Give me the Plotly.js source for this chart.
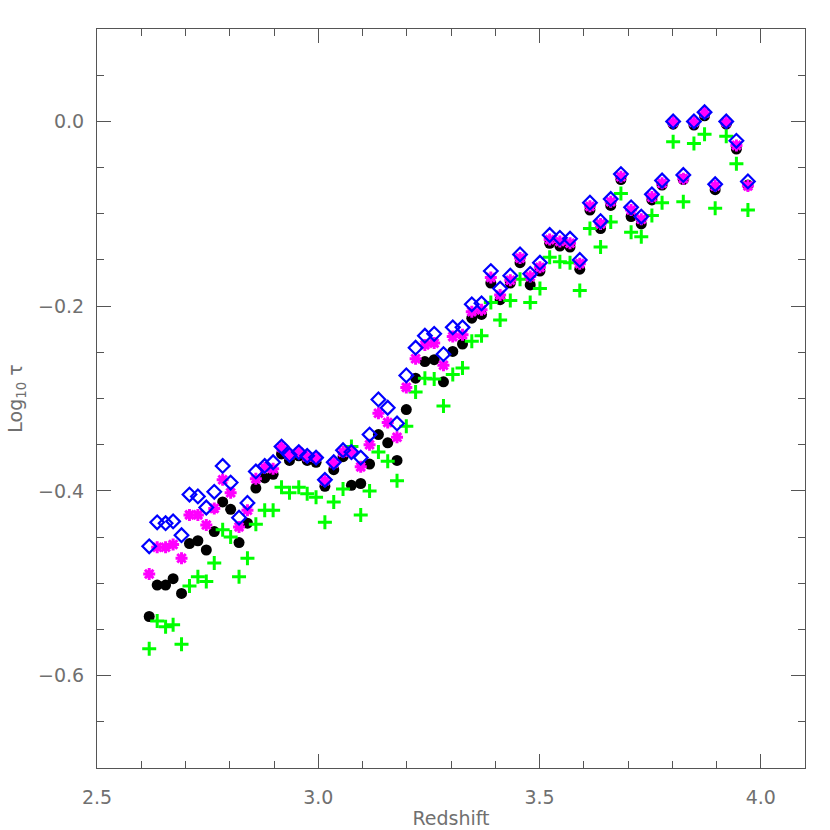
<!DOCTYPE html>
<html>
<head>
<meta charset="utf-8">
<script src="https://cdn.plot.ly/plotly-3.0.1.min.js"></script>
<style>
  html, body { margin: 0; padding: 0; background: #fff; }
  #chart { width: 830px; height: 830px; }
</style>
</head>
<body>
<div id="chart"></div>
<script>
// redshift bins
const redshift = [2.618, 2.636, 2.655, 2.672, 2.691, 2.709, 2.728, 2.747, 2.765, 2.784,
  2.802, 2.821, 2.840, 2.859, 2.879, 2.898, 2.917, 2.935, 2.956, 2.975,
  2.995, 3.015, 3.035, 3.056, 3.075, 3.096, 3.116, 3.136, 3.157, 3.178,
  3.199, 3.220, 3.241, 3.262, 3.283, 3.304, 3.326, 3.347, 3.369, 3.390,
  3.411, 3.434, 3.456, 3.479, 3.501, 3.523, 3.546, 3.569, 3.591, 3.614,
  3.638, 3.661, 3.684, 3.707, 3.730, 3.754, 3.777, 3.802, 3.825, 3.849,
  3.873, 3.897, 3.922, 3.945, 3.971];

// log10 tau, four estimates
const tauBlack = [-0.536, -0.502, -0.502, -0.495, -0.511, -0.457, -0.454, -0.464, -0.444, -0.412,
  -0.420, -0.456, -0.435, -0.397, -0.386, -0.382, -0.360, -0.367, -0.362, -0.367,
  -0.369, -0.395, -0.377, -0.363, -0.394, -0.392, -0.371, -0.339, -0.348, -0.367,
  -0.312, -0.278, -0.260, -0.258, -0.282, -0.249, -0.241, -0.213, -0.209, -0.175,
  -0.193, -0.175, -0.153, -0.177, -0.162, -0.132, -0.135, -0.136, -0.160, -0.096,
  -0.116, -0.091, -0.063, -0.103, -0.111, -0.085, -0.069, -0.003, -0.063, -0.004,
  0.006, -0.074, -0.003, -0.030, -0.069];

const tauGreen = [-0.571, -0.541, -0.547, -0.545, -0.566, -0.503, -0.493, -0.498, -0.478, -0.442,
  -0.450, -0.493, -0.473, -0.436, -0.421, -0.421, -0.396, -0.402, -0.396, -0.403,
  -0.407, -0.434, -0.412, -0.398, -0.352, -0.426, -0.400, -0.358, -0.368, -0.389,
  -0.330, -0.293, -0.278, -0.279, -0.308, -0.274, -0.267, -0.238, -0.232, -0.196,
  -0.215, -0.194, -0.171, -0.196, -0.181, -0.147, -0.152, -0.153, -0.183, -0.116,
  -0.136, -0.109, -0.078, -0.120, -0.125, -0.102, -0.088, -0.022, -0.087, -0.024,
  -0.014, -0.094, -0.016, -0.046, -0.096];

const tauMagenta = [-0.490, -0.461, -0.461, -0.458, -0.473, -0.426, -0.426, -0.437, -0.419, -0.388,
  -0.402, -0.439, -0.421, -0.387, -0.375, -0.376, -0.353, -0.361, -0.358, -0.363,
  -0.364, -0.389, -0.370, -0.358, -0.358, -0.374, -0.350, -0.316, -0.326, -0.342,
  -0.288, -0.257, -0.242, -0.240, -0.264, -0.233, -0.231, -0.206, -0.204, -0.169,
  -0.188, -0.172, -0.148, -0.168, -0.158, -0.128, -0.130, -0.132, -0.154, -0.092,
  -0.111, -0.087, -0.060, -0.096, -0.106, -0.082, -0.067, -0.001, -0.062, -0.001,
  0.009, -0.070, -0.001, -0.026, -0.070];

const tauBlue = [-0.460, -0.434, -0.435, -0.433, -0.448, -0.404, -0.406, -0.418, -0.401, -0.373,
  -0.391, -0.429, -0.413, -0.379, -0.373, -0.369, -0.352, -0.361, -0.358, -0.362,
  -0.364, -0.388, -0.369, -0.356, -0.358, -0.364, -0.339, -0.301, -0.310, -0.327,
  -0.275, -0.245, -0.232, -0.230, -0.252, -0.223, -0.223, -0.198, -0.197, -0.162,
  -0.181, -0.167, -0.144, -0.165, -0.153, -0.123, -0.126, -0.127, -0.150, -0.088,
  -0.108, -0.084, -0.057, -0.093, -0.103, -0.079, -0.064, 0.000, -0.058, 0.000,
  0.010, -0.068, 0.000, -0.021, -0.065];

const xTicks = [2.5, 3.0, 3.5, 4.0];
const xTickText = ["2.5", "3.0", "3.5", "4.0"];
const yTicks = [-0.6, -0.4, -0.2, 0.0];
const yTickText = ["\u22120.6", "\u22120.4", "\u22120.2", "0.0"];

const greyTxt = "#707070";
const axisCol = "#555";

const traces = [
  {
    x: redshift, y: tauBlack, mode: "markers", type: "scatter",
    marker: { symbol: "circle", size: 11, color: "#000" }
  },
  {
    x: redshift, y: tauGreen, mode: "markers", type: "scatter",
    marker: { symbol: "cross-thin", size: 10, color: "#00ff00", line: { color: "#00ff00", width: 3 } }
  },
  {
    x: redshift, y: tauMagenta, mode: "markers", type: "scatter",
    marker: { symbol: "asterisk", size: 10, color: "#ff00ff", line: { color: "#ff00ff", width: 3 } }
  },
  {
    x: redshift, y: tauBlue, mode: "markers", type: "scatter",
    marker: { symbol: "diamond-open", size: 10.5, color: "#0000ff", line: { color: "#0000ff", width: 2.2 } }
  }
];

function axisBase() {
  return {
    showgrid: false,
    zeroline: false,
    showline: true,
    linecolor: axisCol,
    linewidth: 1,
    mirror: "ticks",
    ticks: "inside",
    ticklen: 14,
    tickcolor: axisCol,
    tickwidth: 1,
    tickfont: { family: "DejaVu Sans", size: 19, color: greyTxt }
  };
}

const xaxis = Object.assign(axisBase(), {
  range: [2.5, 4.1],
  tickmode: "array",
  tickvals: xTicks,
  ticktext: xTickText,
  minor: { ticks: "inside", ticklen: 7, tickcolor: axisCol, tickwidth: 1, dtick: 0.1, tick0: 2.5 },
  ticklabelstandoff: 12,
  title: { text: "Redshift", font: { family: "DejaVu Sans", size: 19, color: greyTxt }, standoff: 4 }
});

const yaxis = Object.assign(axisBase(), {
  range: [-0.7, 0.1],
  tickmode: "array",
  tickvals: yTicks,
  ticktext: yTickText,
  minor: { ticks: "inside", ticklen: 7, tickcolor: axisCol, tickwidth: 1, dtick: 0.05, tick0: 0 },
  ticklabelstandoff: 8,
  title: { text: "Log<sub>10</sub> \u03c4", font: { family: "DejaVu Sans", size: 19, color: greyTxt }, standoff: 10 }
});

Plotly.newPlot("chart", traces, {
  width: 830,
  height: 830,
  margin: { l: 97, r: 25, t: 29, b: 62 },
  paper_bgcolor: "#fff",
  plot_bgcolor: "#fff",
  showlegend: false,
  xaxis: xaxis,
  yaxis: yaxis
}, { displayModeBar: false, staticPlot: true });
</script>
</body>
</html>
